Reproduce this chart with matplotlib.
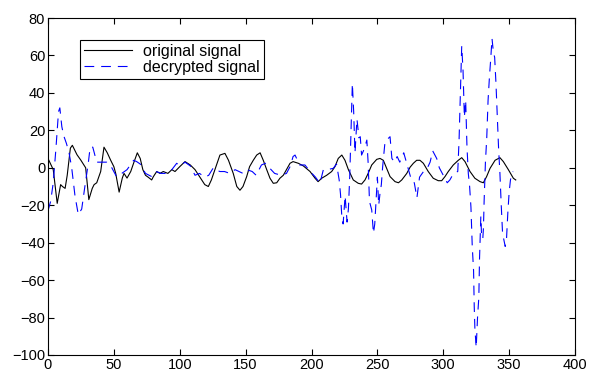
import matplotlib

matplotlib.use("Agg")
import matplotlib.pyplot as plt

plt.rcParams["font.family"] = ["Liberation Sans", "DejaVu Sans"]
plt.rcParams["lines.scale_dashes"] = False

# original signal
orig_x = [0, 2, 4, 7, 9.6, 11, 13, 14.6, 17, 18.5, 22, 25, 28.6, 31, 33.6, 35, 37, 40,
          42.5, 45, 47.6, 50, 51.4, 54, 56.4, 57.7, 60, 62.8, 65, 67.8, 70, 72, 74, 76,
          78.7, 80, 82.5, 85, 87.5, 91, 94, 96.4, 100, 104, 108, 111.6, 115, 119, 121.7,
          124, 126.7, 130.5, 134.3, 137, 140.6, 143.3, 145.7, 148, 150.8, 153, 155.8,
          158.4, 161, 163.4, 166, 168.5, 171, 173.6, 176, 178.6, 181, 183.7, 186, 190,
          193.8, 198.9, 202.7, 205, 207.7, 211.5, 215.3, 217.8, 220.3, 223, 225.4, 228,
          231.7, 235.5, 238, 240.6, 243, 245.7, 249.5, 252, 254.5, 257, 259.6, 263.4,
          266, 268.5, 272.3, 274.8, 277.3, 279.8, 282.3, 284.9, 288.6, 292.4, 296.2,
          298.8, 301.3, 303.8, 307.6, 311.4, 314, 316.5, 320.3, 324, 327.9, 330.4, 332.9,
          335.5, 339.3, 343, 345.6, 349.4, 353.2, 355]
orig_y = [5, 2, -1, -19, -9, -10, -11, -4, 10.5, 12, 7, 4, 0, -17, -11, -9, -8, -2,
          11, 8, 4, 0.6, -3, -13, -5.5, -3, -5.5, -2, 2.5, 8, 5, -1, -4, -5, -6.5, -4.7,
          -2, -3, -2, -3, -1, -2, 0.6, 3.3, 1.5, -1, -4.7, -9, -10, -6.5, -1, 6.8, 7.7,
          4, -3, -10, -12, -10, -4.7, 0.6, 4, 6.8, 8, 4, -1, -5.6, -8.3, -8, -5.6, -4,
          -1, 2.4, 3.3, 2.4, 1, -2, -5.6, -7.4, -5.6, -4, -2, 0.6, 5, 6.8, 4, -1, -6.5,
          -8.3, -8.7, -6.5, -3, 1.5, 4.5, 5, 4, -0.3, -4.7, -7.4, -8, -6.5, -3, 0.3, 2.4,
          4, 4, 2.4, -2, -5.6, -6.9, -6.9, -4.7, -2, 1.5, 4, 5.4, 3.3, -2, -5.6, -7.4,
          -8, -4.7, -0.3, 4, 5.4, 3.3, -1, -5.6, -6.5]

# decrypted signal
dec_x = [0, 2, 4, 6, 8, 9, 10.5, 12, 14, 16, 18, 20.5, 23, 25.6, 28, 30.6, 32, 34, 37,
         40.7, 44.5, 48, 52, 56, 60, 65, 67.3, 70, 74, 78.7, 82, 86, 90, 94, 97.7, 100,
         104, 108, 111.6, 115, 119, 122, 125.5, 127, 130.5, 134, 138, 142, 145, 148,
         151, 155, 158, 162, 165, 168, 172, 177, 181, 184, 186, 187.5, 191, 195, 199,
         203, 206.4, 209, 212, 216.5, 219, 221, 222, 223, 224, 225.5, 227, 228, 229,
         230, 231, 232, 233, 234.5, 236, 237, 238, 240, 242, 243, 244, 245.7, 247, 248,
         250, 251, 252, 253, 254, 255.8, 257, 259.6, 261, 263, 265, 267, 270, 272, 274,
         276, 278, 280, 282, 285, 288, 290, 292, 295, 297, 300, 303, 305, 307, 309, 311,
         312, 313, 314, 315, 316, 317, 318, 319, 320, 321, 322, 323, 323.5, 324, 325,
         326, 327, 327.5, 328, 328.5, 329, 330, 330.5, 331, 332, 333, 334, 335, 336, 337,
         338, 339, 340, 341, 342, 343, 344, 345, 346, 347, 348, 349, 350, 351, 352, 353]
dec_y = [-23, -18, -8, 10, 30, 32, 22, 17, 13, 8, 0, -15, -25, -22, -10, 2.5, 11, 11, 3,
         3, 3, 0.6, -4.7, -3, -1, 4, 3.3, 2, -3, -4.7, -2, -3, -3, -1, 2.4, 1, 3, 1, -4,
         -3, -5, -4, 0, -1, -2, -2, -3, -1, -2, -3, -1, -2, -4, 1.5, 2.4, 0, -3, -4, -3,
         1, 6, 6.8, 1.5, 1.5, -2, -5, -8.3, -1, -1, -0.3, 2, -6.5, -14, -26, -30, -15,
         -29, -22, -5, 19, 45, 30, 8, 26, 16, 16.6, 6.8, 10, 14.8, 2.4, -18, -22.5, -35,
         -30, -5, -20, -13.6, -9, 0.6, 14, 14.8, 16.6, 5, 3, 6, 3, 8, 3, -2, -7, -8,
         -16, -5, -2, 0, 3, 9, 5, 0, -4, -8, -6.5, -4, -2.5, -2, 15, 40, 65, 52, 27, 36,
         11, -3, -10, -21, -42, -55, -74, -86, -96, -80, -69, -49, -37, -26, -35, -38,
         -32, -18, 3, 16, 36, 48, 58, 69, 62, 59, 45, 28, 10, -3, -20, -35, -38.6, -42,
         -38, -24, -13, -6.5, -3, -2]

fig = plt.figure(figsize=(6.02, 3.80), dpi=100)
ax = fig.add_axes([0.0797, 0.0658, 0.8755, 0.8868])

ax.plot(orig_x, orig_y, color="black", lw=0.8, label="original signal")
ax.plot(dec_x, dec_y, color="blue", lw=0.8, ls=(0, (7, 5)), label="decrypted signal")

ax.set_xlim(0, 400)
ax.set_ylim(-100, 80)
ax.set_xticks(range(0, 401, 50))
ax.set_yticks(range(-100, 81, 20))
ax.tick_params(direction="in", length=4, width=0.8, top=True, right=True,
               labelsize=10.5, pad=2)
for s in ax.spines.values():
    s.set_linewidth(0.8)

leg = ax.legend(loc="upper left", bbox_to_anchor=(0.0607, 0.935), borderaxespad=0,
                fontsize=11.5, handlelength=3.0, fancybox=False, framealpha=1,
                edgecolor="black", borderpad=0.25, labelspacing=0.05, handletextpad=0.7)
leg.get_frame().set_linewidth(0.8)

fig.savefig("out.png", dpi=100)
